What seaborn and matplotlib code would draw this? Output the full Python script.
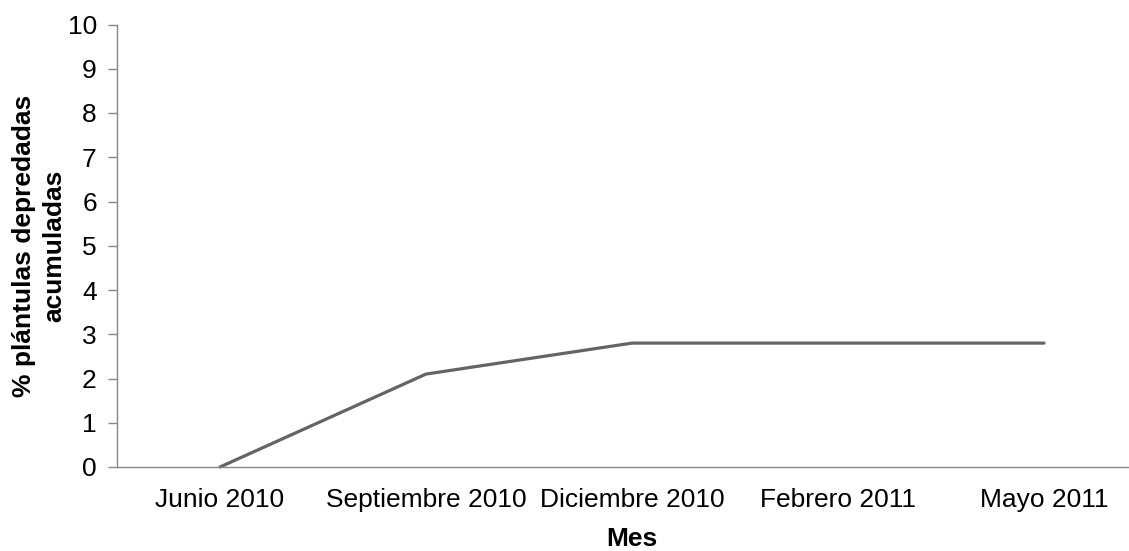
import matplotlib
matplotlib.use("Agg")
import matplotlib.pyplot as plt
import seaborn as sns
import pandas as pd

meses = ["Junio 2010", "Septiembre 2010", "Diciembre 2010", "Febrero 2011", "Mayo 2011"]
porcentaje = [0.0, 2.1, 2.8, 2.8, 2.8]
y_ticks = list(range(0, 11))

sns.set_theme(style="white")
plt.rcParams["font.family"] = ["Liberation Sans", "DejaVu Sans"]
plt.rcParams["text.color"] = "black"
plt.rcParams["axes.labelcolor"] = "black"

df = pd.DataFrame({"mes": meses, "pct": porcentaje})

W, H = 1129, 551
fig = plt.figure(figsize=(W / 100, H / 100), dpi=100)
left, right, bottom, top = 117, 1147, 467, 24.5
ax = fig.add_axes([left / W, 1 - bottom / H, (right - left) / W, (bottom - top) / H])

x = list(range(len(meses)))
sns.lineplot(x=x, y=df["pct"], ax=ax, color="#646464", linewidth=2.3, clip_on=False)

ax.set_xlim(-0.5, len(meses) - 0.5)
ax.set_ylim(0, 10)
ax.set_xticks(x)
ax.set_xticklabels(meses)
ax.set_yticks(y_ticks)
ax.tick_params(axis="y", which="both", left=True, length=6.5, width=1, color="#888888",
               labelsize=19, pad=8, labelcolor="black")
ax.tick_params(axis="x", bottom=False, labelsize=19, pad=9, labelcolor="black")

for s in ["top", "right"]:
    ax.spines[s].set_visible(False)
for s in ["left", "bottom"]:
    ax.spines[s].set_color("#888888")
    ax.spines[s].set_linewidth(1)

ax.set_xlabel("Mes", fontsize=19, fontweight="bold", labelpad=11)
ax.set_ylabel("% plántulas depredadas\nacumuladas", fontsize=19, fontweight="bold",
              linespacing=1.3)
ax.yaxis.set_label_coords((66 - left) / (right - left), 0.5)
ax.grid(False)

fig.savefig("out.png", dpi=100)
